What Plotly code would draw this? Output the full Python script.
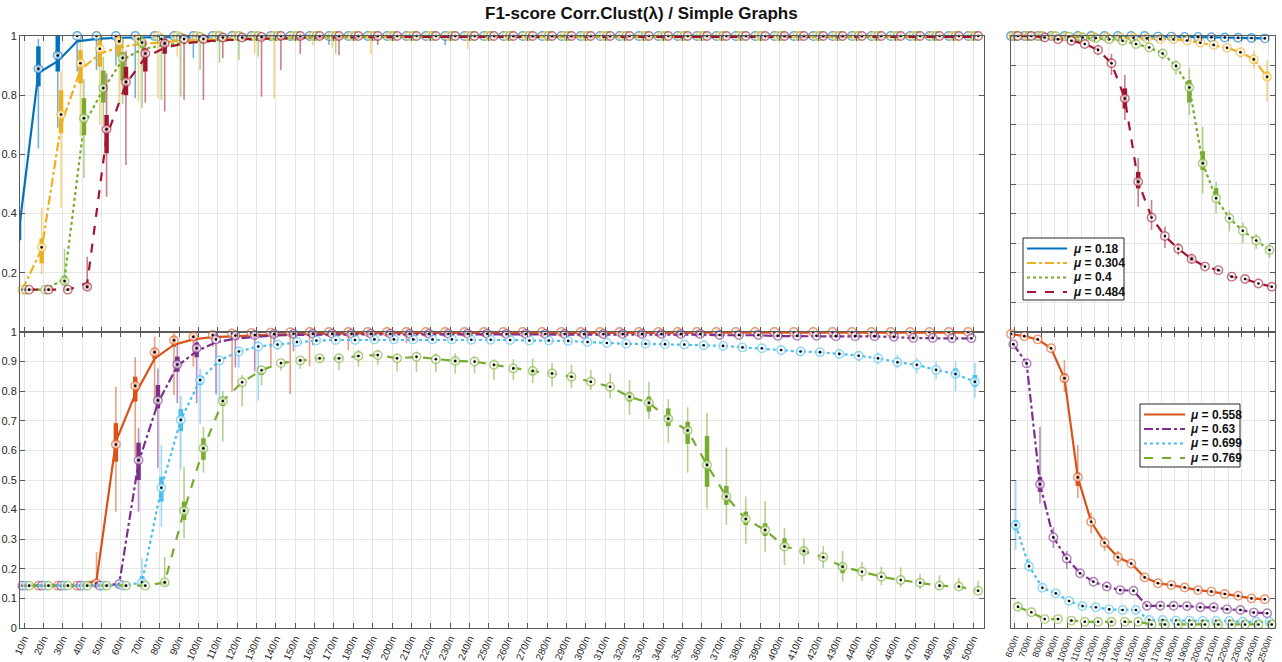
import plotly.graph_objects as go

# ---------------- categories / tick labels ----------------
LEFT_CATS = ["10/n", "20/n", "30/n", "40/n", "50/n", "60/n", "70/n", "80/n", "90/n", "100/n",
             "110/n", "120/n", "130/n", "140/n", "150/n", "160/n", "170/n", "180/n", "190/n", "200/n",
             "210/n", "220/n", "230/n", "240/n", "250/n", "260/n", "270/n", "280/n", "290/n", "300/n",
             "310/n", "320/n", "330/n", "340/n", "350/n", "360/n", "370/n", "380/n", "390/n", "400/n",
             "410/n", "420/n", "430/n", "440/n", "450/n", "460/n", "470/n", "480/n", "490/n", "500/n"]
RIGHT_CATS = ["600/n", "700/n", "800/n", "900/n", "1000/n", "1100/n", "1200/n", "1300/n", "1400/n", "1500/n",
              "1600/n", "1700/n", "1800/n", "1900/n", "2000/n", "2100/n", "2200/n", "2300/n", "2400/n", "2500/n"]
Y_TICKS_TOP = [0.2, 0.4, 0.6, 0.8, 1.0]
Y_TICKS_BOTTOM = [0, 0.1, 0.2, 0.3, 0.4, 0.5, 0.6, 0.7, 0.8, 0.9, 1.0]

# ---------------- top row: mu = 0.18, 0.304, 0.4, 0.484 ----------------
MU018_MED_L = [0.345, 0.889, 0.934, 1.0, 1.0, 1.0, 1.0, 1.0, 1.0, 1.0,
               1.0, 1.0, 1.0, 1.0, 1.0, 1.0, 1.0, 1.0, 1.0, 1.0,
               1.0, 1.0, 1.0, 1.0, 1.0, 1.0, 1.0, 1.0, 1.0, 1.0,
               1.0, 1.0, 1.0, 1.0, 1.0, 1.0, 1.0, 1.0, 1.0, 1.0,
               1.0, 1.0, 1.0, 1.0, 1.0, 1.0, 1.0, 1.0, 1.0, 1.0]
MU018_MEAN_L = [0.345, 0.875, 0.915, 0.982, 0.990, 0.994, 0.995, 0.996, 0.997, 0.997,
                0.998, 0.998, 0.998, 0.998, 0.998, 0.998, 0.998, 0.998, 0.998, 0.998,
                0.999, 0.999, 0.999, 0.999, 0.999, 0.999, 0.999, 0.999, 0.999, 0.999,
                0.999, 0.999, 0.999, 0.999, 0.999, 0.999, 0.999, 0.999, 0.999, 0.999,
                0.999, 0.999, 0.999, 0.999, 0.999, 0.999, 0.999, 0.999, 0.999, 0.999]
MU018_BOX_L = {0: (0.25, 0.31, 0.39, 0.46), 1: (0.62, 0.83, 0.965, 0.99), 2: (0.69, 0.88, 1.0, 1.0),
               3: (0.88, None, None, 1.0), 4: (0.885, None, None, 1.0), 5: (0.90, None, None, 1.0),
               6: (0.79, None, None, 1.0), 9: (0.925, None, None, 1.0), 16: (0.97, None, None, 1.0),
               22: (0.97, None, None, 1.0)}
MU018_MED_R = [1.0, 1.0, 1.0, 1.0, 1.0, 1.0, 1.0, 1.0, 1.0, 1.0,
               1.0, 0.998, 0.998, 0.997, 0.997, 0.996, 0.995, 0.994, 0.993, 0.992]
MU018_BOX_R = {}

MU0304_MED_L = [0.143, 0.286, 0.735, 0.908, 0.957, 0.982, 0.990, 1.0, 1.0, 1.0,
                1.0, 1.0, 1.0, 1.0, 1.0, 1.0, 1.0, 1.0, 1.0, 1.0,
                1.0, 1.0, 1.0, 1.0, 1.0, 1.0, 1.0, 1.0, 1.0, 1.0,
                1.0, 1.0, 1.0, 1.0, 1.0, 1.0, 1.0, 1.0, 1.0, 1.0,
                1.0, 1.0, 1.0, 1.0, 1.0, 1.0, 1.0, 1.0, 1.0, 1.0]
MU0304_MEAN_L = [0.143, 0.280, 0.700, 0.885, 0.940, 0.962, 0.972, 0.978, 0.983, 0.986,
                 0.990, 0.992, 0.993, 0.994, 0.995, 0.996, 0.996, 0.997, 0.997, 0.997,
                 0.998, 0.998, 0.998, 0.998, 0.998, 0.998, 0.998, 0.998, 0.998, 0.998,
                 0.998, 0.998, 0.998, 0.998, 0.998, 0.998, 0.998, 0.998, 0.998, 0.998,
                 0.998, 0.998, 0.998, 0.998, 0.998, 0.998, 0.998, 0.998, 0.998, 0.998]
MU0304_BOX_L = {1: (0.195, 0.232, 0.316, 0.42), 2: (0.42, 0.672, 0.817, 0.88), 3: (0.66, 0.84, 0.952, 0.98),
                4: (0.70, 0.896, 0.986, 1.0), 5: (0.77, 0.93, 1.0, 1.0), 6: (0.78, 0.975, 1.0, 1.0),
                7: (0.79, None, None, 1.0), 8: (0.93, None, None, 1.0), 12: (0.94, None, None, 1.0),
                13: (0.79, None, None, 1.0), 15: (0.97, None, None, 1.0), 16: (0.96, None, None, 1.0),
                18: (0.938, None, None, 1.0), 23: (0.956, None, None, 1.0)}
MU0304_MED_R = [1.0, 1.0, 1.0, 1.0, 0.998, 0.998, 0.997, 0.996, 0.995, 0.994,
                0.992, 0.990, 0.989, 0.985, 0.977, 0.970, 0.960, 0.945, 0.921, 0.862]
MU0304_BOX_R = {17: (0.925, None, None, 0.96), 18: (0.89, 0.91, 0.93, 0.95), 19: (0.778, 0.851, 0.88, 0.919)}

MU04_MED_L = [0.143, 0.143, 0.172, 0.722, 0.824, 0.926, 0.978, 0.990, 0.995, 0.997,
              1.0, 1.0, 1.0, 1.0, 1.0, 1.0, 1.0, 1.0, 1.0, 1.0,
              1.0, 1.0, 1.0, 1.0, 1.0, 1.0, 1.0, 1.0, 1.0, 1.0,
              1.0, 1.0, 1.0, 1.0, 1.0, 1.0, 1.0, 1.0, 1.0, 1.0,
              1.0, 1.0, 1.0, 1.0, 1.0, 1.0, 1.0, 1.0, 1.0, 1.0]
MU04_MEAN_L = [0.143, 0.143, 0.180, 0.700, 0.820, 0.920, 0.955, 0.968, 0.975, 0.980,
               0.985, 0.988, 0.990, 0.992, 0.994, 0.995, 0.996, 0.996, 0.997, 0.997,
               0.998, 0.998, 0.998, 0.998, 0.998, 0.998, 0.998, 0.998, 0.998, 0.998,
               0.998, 0.998, 0.998, 0.998, 0.998, 0.998, 0.998, 0.998, 0.998, 0.998,
               0.998, 0.998, 0.998, 0.998, 0.998, 0.998, 0.998, 0.998, 0.998, 0.998]
MU04_BOX_L = {2: (0.14, 0.16, 0.19, 0.28), 3: (0.52, 0.665, 0.79, 0.855), 4: (0.70, 0.775, 0.883, 0.93),
              5: (0.77, 0.85, 0.945, 0.99), 6: (0.757, 0.96, 0.99, 1.0), 7: (0.785, None, None, 1.0),
              8: (0.795, None, None, 1.0), 9: (0.885, None, None, 1.0), 10: (0.91, None, None, 1.0),
              11: (0.92, None, None, 1.0), 12: (0.93, None, None, 1.0), 16: (0.94, None, None, 1.0)}
MU04_MED_R = [1.0, 1.0, 1.0, 0.999, 0.998, 0.995, 0.993, 0.989, 0.984, 0.973,
              0.961, 0.941, 0.899, 0.826, 0.570, 0.452, 0.384, 0.342, 0.309, 0.277]
MU04_BOX_R = {11: (0.92, None, None, 0.955), 12: (0.87, None, None, 0.92), 13: (0.733, 0.775, 0.851, 0.89),
              14: (0.468, 0.547, 0.611, 0.694), 15: (0.401, 0.457, 0.486, 0.508), 16: (0.34, None, None, 0.41),
              17: (0.30, None, None, 0.37), 18: (0.28, None, None, 0.33), 19: (0.25, None, None, 0.30)}

MU0484_MED_L = [0.143, 0.143, 0.143, 0.153, 0.685, 0.845, 0.941, 0.975, 0.990, 0.990,
                0.995, 0.995, 0.997, 1.0, 1.0, 1.0, 1.0, 1.0, 1.0, 1.0,
                1.0, 1.0, 1.0, 1.0, 1.0, 1.0, 1.0, 1.0, 1.0, 1.0,
                1.0, 1.0, 1.0, 1.0, 1.0, 1.0, 1.0, 1.0, 1.0, 1.0,
                1.0, 1.0, 1.0, 1.0, 1.0, 1.0, 1.0, 1.0, 1.0, 1.0]
MU0484_MEAN_L = [0.143, 0.143, 0.143, 0.165, 0.660, 0.838, 0.928, 0.960, 0.975, 0.982,
                 0.986, 0.989, 0.990, 0.992, 0.994, 0.995, 0.995, 0.996, 0.996, 0.997,
                 0.997, 0.997, 0.997, 0.997, 0.997, 0.997, 0.997, 0.997, 0.997, 0.997,
                 0.997, 0.997, 0.997, 0.997, 0.997, 0.997, 0.997, 0.997, 0.997, 0.997,
                 0.997, 0.997, 0.997, 0.997, 0.997, 0.997, 0.997, 0.997, 0.997, 0.997]
MU0484_BOX_L = {3: (0.14, 0.145, 0.165, 0.254), 4: (0.457, 0.604, 0.733, 0.874), 5: (0.564, 0.80, 0.896, 0.95),
                6: (0.775, 0.88, 0.958, 0.985), 7: (0.745, 0.94, 0.99, 1.0), 8: (0.785, None, None, 1.0),
                9: (0.784, None, None, 1.0), 10: (0.925, None, None, 1.0), 12: (0.795, None, None, 1.0),
                13: (0.885, None, None, 1.0), 14: (0.94, None, None, 1.0), 16: (0.935, None, None, 1.0),
                18: (0.97, None, None, 1.0)}
MU0484_MED_R = [1.0, 1.0, 0.995, 0.989, 0.984, 0.973, 0.953, 0.908, 0.789, 0.508,
                0.387, 0.324, 0.281, 0.247, 0.221, 0.209, 0.187, 0.179, 0.164, 0.153]
MU0484_BOX_R = {6: (0.935, None, None, 0.97), 7: (0.868, None, None, 0.94), 8: (0.716, 0.755, 0.823, 0.868),
                9: (0.423, 0.485, 0.541, 0.588), 10: (0.345, None, None, 0.446), 11: (0.284, None, None, 0.356),
                12: (0.26, None, None, 0.30), 13: (0.23, 0.24, 0.255, 0.265)}

# ---------------- bottom row: mu = 0.558, 0.63, 0.699, 0.769 ----------------
MU0558_MED_L = [0.143, 0.143, 0.143, 0.143, 0.151, 0.620, 0.818, 0.932, 0.972, 0.984,
                0.990, 0.995, 0.997, 0.998, 0.999, 1.0, 1.0, 1.0, 1.0, 1.0,
                1.0, 1.0, 1.0, 1.0, 1.0, 1.0, 1.0, 1.0, 1.0, 1.0,
                1.0, 1.0, 1.0, 1.0, 1.0, 1.0, 1.0, 1.0, 1.0, 1.0,
                1.0, 1.0, 1.0, 1.0, 1.0, 1.0, 1.0, 1.0, 1.0, 1.0]
MU0558_MEAN_L = [0.143, 0.143, 0.143, 0.143, 0.160, 0.630, 0.790, 0.910, 0.957, 0.975,
                 0.983, 0.986, 0.989, 0.992, 0.993, 0.994, 0.995, 0.996, 0.996, 0.997,
                 0.997, 0.997, 0.997, 0.997, 0.997, 0.998, 0.998, 0.998, 0.998, 0.998,
                 0.998, 0.998, 0.998, 0.998, 0.998, 0.998, 0.998, 0.998, 0.998, 0.998,
                 0.998, 0.998, 0.998, 0.998, 0.998, 0.998, 0.998, 0.998, 0.998, 0.998]
MU0558_BOX_L = {4: (0.14, 0.143, 0.16, 0.256), 5: (0.393, 0.562, 0.692, 0.815), 6: (0.579, 0.765, 0.849, 0.915),
                7: (0.76, 0.91, 0.945, 0.985), 8: (0.787, 0.95, 0.985, 1.0), 9: (0.883, 0.97, 0.99, 1.0),
                10: (0.95, None, None, 1.0), 11: (0.798, None, None, 1.0), 13: (0.884, None, None, 1.0),
                14: (0.79, None, None, 1.0), 15: (0.884, None, None, 1.0), 17: (0.939, None, None, 1.0),
                20: (0.962, None, None, 1.0)}
MU0558_MED_R = [0.993, 0.986, 0.975, 0.945, 0.844, 0.509, 0.359, 0.288, 0.239, 0.218,
                0.171, 0.151, 0.145, 0.137, 0.128, 0.123, 0.115, 0.109, 0.100, 0.097]
MU0558_BOX_R = {4: (0.798, 0.83, 0.86, 0.905), 5: (0.439, 0.48, 0.525, 0.618), 6: (0.32, None, None, 0.39),
                7: (0.26, None, None, 0.31), 8: (0.21, None, None, 0.26)}

MU063_MED_L = [0.143, 0.143, 0.143, 0.143, 0.143, 0.148, 0.567, 0.769, 0.890, 0.945,
               0.975, 0.988, 0.990, 0.993, 0.994, 0.994, 0.994, 0.994, 0.994, 0.994,
               0.994, 0.994, 0.994, 0.994, 0.994, 0.993, 0.993, 0.993, 0.993, 0.993,
               0.993, 0.993, 0.993, 0.993, 0.993, 0.993, 0.990, 0.990, 0.990, 0.987,
               0.987, 0.987, 0.986, 0.986, 0.986, 0.984, 0.980, 0.980, 0.979, 0.979]
MU063_MEAN_L = [0.143, 0.143, 0.143, 0.143, 0.143, 0.148, 0.560, 0.760, 0.885, 0.935,
                0.965, 0.978, 0.984, 0.988, 0.990, 0.991, 0.992, 0.992, 0.992, 0.992,
                0.992, 0.992, 0.992, 0.992, 0.992, 0.991, 0.991, 0.991, 0.991, 0.991,
                0.991, 0.991, 0.991, 0.991, 0.991, 0.991, 0.989, 0.989, 0.989, 0.986,
                0.986, 0.986, 0.985, 0.985, 0.985, 0.983, 0.979, 0.979, 0.978, 0.978]
MU063_BOX_L = {6: (0.393, 0.50, 0.626, 0.675), 7: (0.54, 0.742, 0.821, 0.877), 8: (0.76, 0.866, 0.917, 0.96),
               9: (0.76, 0.915, 0.965, 0.98), 10: (0.79, None, None, 1.0), 11: (0.88, None, None, 1.0),
               12: (0.867, None, None, 1.0), 13: (0.96, None, None, 1.0), 14: (0.935, None, None, 1.0),
               15: (0.955, None, None, 1.0)}
MU063_MED_R = [0.959, 0.894, 0.486, 0.306, 0.235, 0.185, 0.156, 0.140, 0.128, 0.126,
               0.075, 0.075, 0.075, 0.074, 0.070, 0.070, 0.063, 0.061, 0.052, 0.050]
MU063_BOX_R = {1: (0.88, None, None, 0.91), 2: (0.421, 0.46, 0.51, 0.68), 3: (0.27, None, None, 0.34),
               4: (0.20, None, None, 0.26)}

MU0699_MED_L = [0.143, 0.143, 0.143, 0.143, 0.143, 0.143, 0.154, 0.474, 0.703, 0.838,
                0.904, 0.934, 0.951, 0.958, 0.966, 0.971, 0.973, 0.973, 0.975, 0.975,
                0.975, 0.975, 0.975, 0.974, 0.974, 0.973, 0.971, 0.971, 0.970, 0.966,
                0.963, 0.960, 0.960, 0.959, 0.958, 0.955, 0.953, 0.948, 0.945, 0.939,
                0.934, 0.932, 0.926, 0.920, 0.911, 0.898, 0.889, 0.872, 0.858, 0.832]
MU0699_BOX_L = {6: (0.14, 0.15, 0.175, 0.235), 7: (0.342, 0.427, 0.511, 0.618), 8: (0.535, 0.665, 0.74, 0.785),
                9: (0.69, 0.82, 0.85, 0.876), 10: (0.77, None, None, 0.92), 11: (0.88, None, None, 0.95),
                12: (0.768, None, None, 0.97), 13: (0.94, None, None, 0.97), 14: (0.955, None, None, 0.975),
                40: (0.92, None, None, 0.945), 41: (0.918, None, None, 0.944), 42: (0.91, None, None, 0.94),
                43: (0.90, None, None, 0.935), 44: (0.889, None, None, 0.931), 45: (0.877, None, None, 0.922),
                46: (0.86, None, None, 0.912), 47: (0.84, None, None, 0.90), 48: (0.80, 0.849, 0.877, 0.90),
                49: (0.777, 0.815, 0.855, 0.895)}
MU0699_MED_R = [0.348, 0.209, 0.136, 0.117, 0.091, 0.074, 0.070, 0.063, 0.061, 0.061,
                0.027, 0.027, 0.025, 0.025, 0.024, 0.024, 0.024, 0.021, 0.021, 0.021]
MU0699_BOX_R = {0: (0.264, 0.33, 0.365, 0.50), 1: (0.19, None, None, 0.235), 2: (0.125, None, None, 0.15)}

MU0769_MED_L = [0.143, 0.143, 0.143, 0.143, 0.143, 0.143, 0.143, 0.154, 0.396, 0.607,
                0.767, 0.830, 0.871, 0.895, 0.904, 0.911, 0.911, 0.919, 0.922, 0.911,
                0.916, 0.908, 0.902, 0.900, 0.889, 0.877, 0.868, 0.860, 0.849, 0.832,
                0.815, 0.781, 0.761, 0.707, 0.667, 0.551, 0.444, 0.368, 0.331, 0.275,
                0.260, 0.239, 0.207, 0.190, 0.173, 0.162, 0.153, 0.143, 0.140, 0.126]
MU0769_BOX_L = {7: (0.14, 0.145, 0.16, 0.24), 8: (0.303, 0.365, 0.427, 0.545), 9: (0.525, 0.568, 0.641, 0.68),
                10: (0.63, 0.75, 0.78, 0.80), 11: (0.75, None, None, 0.855), 12: (0.82, 0.855, 0.865, 0.878),
                13: (0.87, None, None, 0.90), 14: (0.875, None, None, 0.915), 15: (0.895, None, None, 0.92),
                16: (0.872, None, None, 0.928), 17: (0.883, None, None, 0.94), 18: (0.889, None, None, 0.94),
                19: (0.866, None, None, 0.928), 20: (0.866, None, None, 0.934), 21: (0.866, None, None, 0.928),
                22: (0.86, 0.895, 0.91, 0.928), 23: (0.86, None, None, 0.917), 24: (0.838, None, None, 0.908),
                25: (0.838, None, None, 0.908), 26: (0.827, 0.855, 0.875, 0.911), 27: (0.815, None, None, 0.895),
                28: (0.81, None, None, 0.89), 29: (0.804, None, None, 0.872), 30: (0.776, None, None, 0.86),
                31: (0.72, 0.765, 0.795, 0.838), 32: (0.706, 0.731, 0.782, 0.832), 33: (0.626, 0.682, 0.742, 0.773),
                34: (0.525, 0.622, 0.697, 0.746), 35: (0.404, 0.477, 0.649, 0.727), 36: (0.348, 0.416, 0.48, 0.61),
                37: (0.284, 0.348, 0.393, 0.444), 38: (0.258, 0.311, 0.354, 0.429), 39: (0.213, 0.275, 0.303, 0.337),
                40: (0.216, 0.25, 0.27, 0.302), 41: (0.202, None, None, 0.277), 42: (0.157, 0.185, 0.218, 0.26),
                43: (0.159, None, None, 0.224), 44: (0.145, None, None, 0.207), 45: (0.138, None, None, 0.205),
                46: (0.132, None, None, 0.182), 47: (0.128, None, None, 0.178), 48: (0.137, None, None, 0.17),
                49: (0.12, None, None, 0.16)}
MU0769_MED_R = [0.072, 0.053, 0.030, 0.030, 0.025, 0.021, 0.021, 0.021, 0.021, 0.021,
                0.012, 0.012, 0.012, 0.012, 0.012, 0.012, 0.012, 0.012, 0.012, 0.012]
MU0769_BOX_R = {0: (0.06, None, None, 0.09)}

# ---------------- series styling ----------------
TOP_SERIES = [
    dict(label="0.18", rgb=(0, 114, 189), dash="solid",
         medL=MU018_MED_L, meanL=MU018_MEAN_L, boxL=MU018_BOX_L, medR=MU018_MED_R, boxR=MU018_BOX_R),
    dict(label="0.304", rgb=(237, 177, 32), dash="dashdot",
         medL=MU0304_MED_L, meanL=MU0304_MEAN_L, boxL=MU0304_BOX_L, medR=MU0304_MED_R, boxR=MU0304_BOX_R),
    dict(label="0.4", rgb=(119, 172, 48), dash="dot",
         medL=MU04_MED_L, meanL=MU04_MEAN_L, boxL=MU04_BOX_L, medR=MU04_MED_R, boxR=MU04_BOX_R),
    dict(label="0.484", rgb=(162, 20, 47), dash="dash",
         medL=MU0484_MED_L, meanL=MU0484_MEAN_L, boxL=MU0484_BOX_L, medR=MU0484_MED_R, boxR=MU0484_BOX_R),
]
BOTTOM_SERIES = [
    dict(label="0.558", rgb=(217, 83, 25), dash="solid",
         medL=MU0558_MED_L, meanL=MU0558_MEAN_L, boxL=MU0558_BOX_L, medR=MU0558_MED_R, boxR=MU0558_BOX_R),
    dict(label="0.63", rgb=(126, 47, 142), dash="dashdot",
         medL=MU063_MED_L, meanL=MU063_MEAN_L, boxL=MU063_BOX_L, medR=MU063_MED_R, boxR=MU063_BOX_R),
    dict(label="0.699", rgb=(77, 190, 238), dash="dot",
         medL=MU0699_MED_L, meanL=MU0699_MED_L, boxL=MU0699_BOX_L, medR=MU0699_MED_R, boxR=MU0699_BOX_R),
    dict(label="0.769", rgb=(119, 172, 48), dash="dash",
         medL=MU0769_MED_L, meanL=MU0769_MED_L, boxL=MU0769_BOX_L, medR=MU0769_MED_R, boxR=MU0769_BOX_R),
]
OFFSETS = [-0.26, -0.09, 0.09, 0.26]

# page pixel layout; the body margin is removed by a small post script
W, H = 1282, 662
FONT = "Liberation Sans, Arial, sans-serif"


def pxx(p):
    return p / W


def pxy(p):
    return 1 - p / H


def rgba(c, a):
    return "rgba(%d,%d,%d,%.2f)" % (c[0], c[1], c[2], a)


fig = go.Figure()


def add_panel(series_list, side, xa, ya):
    for s_i, s in enumerate(series_list):
        off = OFFSETS[s_i]
        if side == "L":
            med, mean, box = s["medL"], s["meanL"], s["boxL"]
        else:
            med, mean, box = s["medR"], s["medR"], s["boxR"]
        xs = [i + off for i in range(len(med))]
        col = s["rgb"]
        fig.add_trace(go.Scatter(
            x=xs, y=mean, mode="lines", xaxis=xa, yaxis=ya,
            line=dict(color=rgba(col, 1), width=2.2, dash=s["dash"]),
            name="μ = " + s["label"], showlegend=False, hoverinfo="skip"))
        wx, wy, bx, by = [], [], [], []
        for idx, (lo, q1, q3, hi) in box.items():
            x = idx + off
            wx += [x, x, None]
            wy += [lo, hi, None]
            if q1 is not None:
                bx += [x, x, None]
                by += [q1, q3, None]
        if wx:
            fig.add_trace(go.Scatter(
                x=wx, y=wy, mode="lines", xaxis=xa, yaxis=ya,
                line=dict(color=rgba(col, 0.55), width=1.6),
                showlegend=False, hoverinfo="skip"))
        if bx:
            fig.add_trace(go.Scatter(
                x=bx, y=by, mode="lines", xaxis=xa, yaxis=ya,
                line=dict(color=rgba(col, 1), width=4.5),
                showlegend=False, hoverinfo="skip"))
        fig.add_trace(go.Scatter(
            x=xs, y=med, mode="markers", xaxis=xa, yaxis=ya, cliponaxis=False,
            marker=dict(symbol="circle", size=8.5, color="rgba(255,255,255,0.6)",
                        line=dict(color=rgba(col, 0.6), width=1.4)),
            showlegend=False, hoverinfo="skip"))
        fig.add_trace(go.Scatter(
            x=xs, y=med, mode="markers", xaxis=xa, yaxis=ya, cliponaxis=False,
            marker=dict(symbol="circle", size=2.6, color="black"),
            showlegend=False, hoverinfo="skip"))


add_panel(TOP_SERIES, "L", "x", "y")
add_panel(TOP_SERIES, "R", "x2", "y2")
add_panel(BOTTOM_SERIES, "L", "x3", "y3")
add_panel(BOTTOM_SERIES, "R", "x4", "y4")

LX = [pxx(20), pxx(984)]
RX = [pxx(1011), pxx(1275)]
TY = [pxy(332), pxy(36)]
BY = [pxy(628), pxy(332)]

AX_COMMON = dict(showline=True, linecolor="#5a5a5a", linewidth=1, mirror="ticks",
                 ticks="inside", ticklen=5, tickcolor="#5a5a5a", tickwidth=1,
                 showgrid=True, gridcolor="#e6e6e6", gridwidth=1, zeroline=False, automargin=False,
                 tickfont=dict(family=FONT, size=11, color="#262626"))
XLAB_FONT = dict(family=FONT, size=10, color="#262626")
XLAB_FONT_R = dict(family=FONT, size=9, color="#262626")

LRANGE = [-0.21, 49.56]
RRANGE = [-0.26, 19.5]

# ---------------- hand-drawn legends (box, line samples, labels) ----------------
shapes, annotations = [], []


def add_legend(series_list, box, rows, x_line, x_text):
    x0, y0, x1, y1 = box
    shapes.append(dict(type="rect", xref="paper", yref="paper", x0=pxx(x0), x1=pxx(x1),
                       y0=pxy(y1), y1=pxy(y0), line=dict(color="#262626", width=1),
                       fillcolor="white", layer="above"))
    for s, yy in zip(series_list, rows):
        shapes.append(dict(type="line", xref="paper", yref="paper", x0=pxx(x_line[0]), x1=pxx(x_line[1]),
                           y0=pxy(yy), y1=pxy(yy), layer="above",
                           line=dict(color=rgba(s["rgb"], 1), width=2.2, dash=s["dash"])))
        annotations.append(dict(text="<b><i>μ</i> = " + s["label"] + "</b>", xref="paper", yref="paper",
                                x=pxx(x_text), y=pxy(yy), xanchor="left", yanchor="middle", showarrow=False,
                                font=dict(family=FONT, size=12, color="#111")))


add_legend(TOP_SERIES, (1023, 238, 1124, 300), [248.5, 263, 277.5, 292], (1027, 1067), 1071)
add_legend(BOTTOM_SERIES, (1140, 404, 1240, 467), [414.5, 429, 443.5, 458], (1144, 1185), 1188)

annotations.append(dict(text="<b>F1-score Corr.Clust(λ) / Simple Graphs</b>", x=pxx(641), y=pxy(13),
                        xref="paper", yref="paper", xanchor="center", yanchor="middle", showarrow=False,
                        font=dict(family=FONT, size=17, color="#111")))

fig.update_layout(
    width=W, height=H, margin=dict(l=0, r=0, t=0, b=0, autoexpand=False),
    paper_bgcolor="white", plot_bgcolor="white", showlegend=False,
    font=dict(family=FONT, color="#262626"),
    xaxis=dict(domain=LX, anchor="y", range=LRANGE, tickmode="array",
               tickvals=list(range(len(LEFT_CATS))), showticklabels=False, **AX_COMMON),
    yaxis=dict(domain=TY, anchor="x", range=[0, 1], tickmode="array", tickvals=Y_TICKS_TOP,
               ticktext=["0.2", "0.4", "0.6", "0.8", "1"], **AX_COMMON),
    xaxis2=dict(domain=RX, anchor="y2", range=RRANGE, tickmode="array",
                tickvals=list(range(len(RIGHT_CATS))), showticklabels=False, **AX_COMMON),
    yaxis2=dict(domain=TY, anchor="x2", range=[0, 1], tickmode="array",
                tickvals=Y_TICKS_BOTTOM, showticklabels=False, **AX_COMMON),
    xaxis3=dict(domain=LX, anchor="y3", range=LRANGE, tickmode="array",
                tickvals=list(range(len(LEFT_CATS))), ticktext=LEFT_CATS, tickangle=-66, **AX_COMMON),
    yaxis3=dict(domain=BY, anchor="x3", range=[0, 1], tickmode="array", tickvals=Y_TICKS_BOTTOM,
                ticktext=["0", "0.1", "0.2", "0.3", "0.4", "0.5", "0.6", "0.7", "0.8", "0.9", "1"],
                **AX_COMMON),
    xaxis4=dict(domain=RX, anchor="y4", range=RRANGE, tickmode="array",
                tickvals=list(range(len(RIGHT_CATS))), ticktext=RIGHT_CATS, tickangle=-70, **AX_COMMON),
    yaxis4=dict(domain=BY, anchor="x4", range=[0, 1], tickmode="array",
                tickvals=Y_TICKS_BOTTOM, showticklabels=False, **AX_COMMON),
    shapes=shapes,
    annotations=annotations,
)
fig.update_xaxes(tickfont=XLAB_FONT, selector=dict(anchor="y3"))
fig.update_xaxes(tickfont=XLAB_FONT_R, selector=dict(anchor="y4"))

fig.write_html("out.html", config={"displayModeBar": False, "staticPlot": True},
               post_script="document.body.style.margin='0';document.body.style.padding='0';"
                           "document.documentElement.style.overflow='hidden';")
